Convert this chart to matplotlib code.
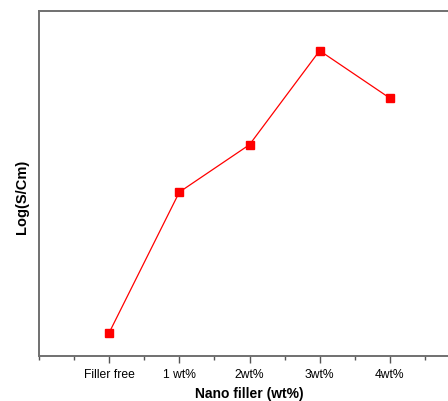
import matplotlib
matplotlib.use("Agg")
import matplotlib.pyplot as plt
from matplotlib.ticker import MultipleLocator

plt.rcParams['font.family'] = ['Liberation Sans', 'DejaVu Sans']

labels = ['Filler free', '1 wt%', '2wt%', '3wt%', '4wt%']
pos = [1, 2, 3, 4, 5]
logS = [-5.73, -4.10, -3.55, -2.46, -3.01]

fig = plt.figure(figsize=(4.48, 4.01), dpi=100)
ax = fig.add_axes([39/448, 1 - 356/401, (460 - 39)/448, (356 - 11)/401])
ax.plot(pos, logS, color='red', lw=0.9, marker='s', ms=6, mec='red', mfc='red')

ax.set_xlim(0, 6)
ax.set_ylim(-6.0, -2.0)
ax.set_xticks(pos)
ax.set_xticklabels(labels, fontsize=8.7)
ax.xaxis.set_minor_locator(MultipleLocator(0.5))
ax.tick_params(axis='x', which='major', direction='out', length=5, width=1, color='#555555', pad=4)
ax.tick_params(axis='x', which='minor', direction='out', length=3, width=1, color='#555555')
ax.set_yticks([])
ax.set_xlabel('Nano filler (wt%)', fontsize=10, fontweight='bold', labelpad=5)
ax.set_ylabel('Log(S/Cm)', fontsize=10.5, fontweight='bold')
ax.yaxis.set_label_coords(-0.024, 0.46)
for s in ax.spines.values():
    s.set_color('#707070')
    s.set_linewidth(1.4)

fig.savefig('out.png', dpi=100)
